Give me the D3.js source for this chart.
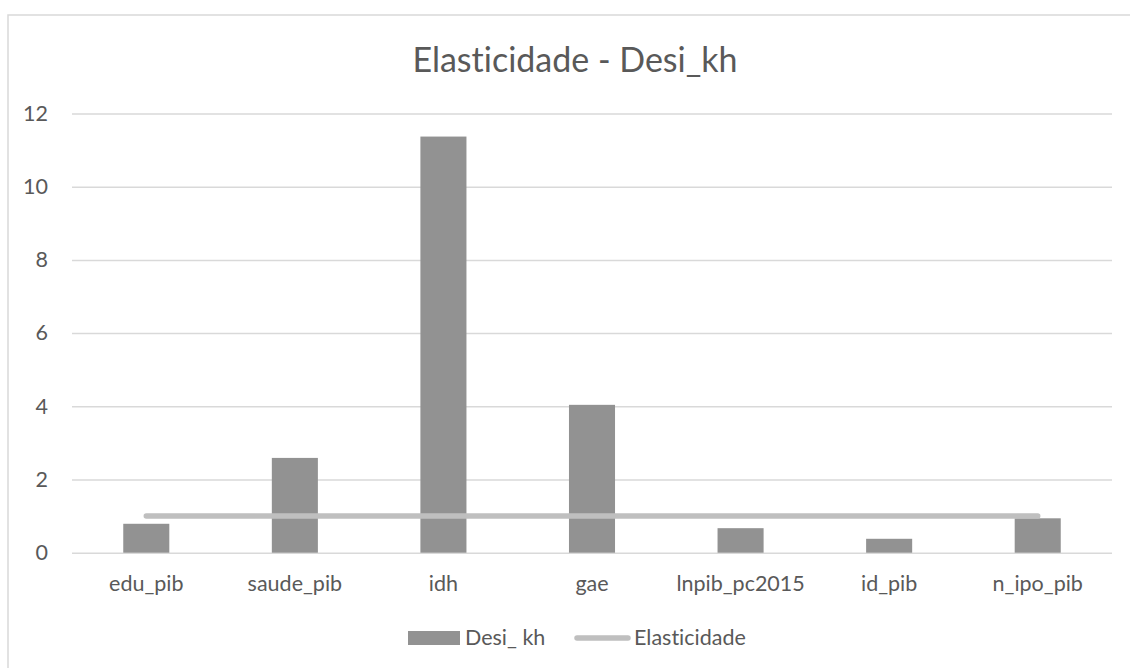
<!DOCTYPE html>
<html>
<head>
<meta charset="utf-8">
<script src="https://cdn.jsdelivr.net/npm/d3@7"></script>
<style>
  html, body { margin: 0; padding: 0; background: #fff; }
  svg { display: block; font-family: Lato, "Open Sans", sans-serif; font-variant-ligatures: none; }
</style>
</head>
<body>
<svg id="chart" width="1130" height="668"></svg>
<script>
// Categories and series
const categories = ["edu_pib", "saude_pib", "idh", "gae", "lnpib_pc2015", "id_pib", "n_ipo_pib"];
const desiKh = [0.79, 2.59, 11.37, 4.04, 0.67, 0.38, 0.94];
const elasticidade = [1, 1, 1, 1, 1, 1, 1];
const yTicks = [0, 2, 4, 6, 8, 10, 12];
const seriesNames = ["Desi_ kh", "Elasticidade"];
const titleText = "Elasticidade - Desi_kh";

const W = 1130, H = 668;
const plot = { left: 72, right: 1112, top: 113.5, bottom: 552.7 };
const barColor = "#929292", lineColor = "#bfbfbf", gridColor = "#d9d9d9", textColor = "#595959";
const labelSize = "21.5px";

const svg = d3.select("#chart");

// Chart area border
svg.append("rect")
  .attr("x", 8).attr("y", 15)
  .attr("width", W).attr("height", H)
  .attr("fill", "#fff")
  .attr("stroke", gridColor).attr("stroke-width", 1.5);

const x = d3.scaleBand()
  .domain(categories)
  .range([plot.left, plot.right])
  .paddingInner(0.69)
  .paddingOuter(0.345);

const y = d3.scaleLinear()
  .domain([0, 12])
  .range([plot.bottom, plot.top]);

// Gridlines + y labels
const yAxis = d3.axisLeft(y).tickValues(yTicks).tickSize(-(plot.right - plot.left)).tickFormat(d3.format("d")).tickPadding(24);
const gy = svg.append("g").attr("transform", `translate(${plot.left},0)`).call(yAxis);
gy.select(".domain").remove();
gy.selectAll(".tick line").attr("stroke", gridColor).attr("stroke-width", 1.5);
gy.selectAll(".tick text")
  .attr("fill", textColor)
  .style("font-size", labelSize)
  .style("font-family", "Lato, sans-serif");

// Bars
svg.append("g").selectAll("rect")
  .data(categories)
  .join("rect")
  .attr("x", d => x(d))
  .attr("width", x.bandwidth())
  .attr("y", (d, i) => y(desiKh[i]))
  .attr("height", (d, i) => y(0) - y(desiKh[i]))
  .attr("fill", barColor);

// Elasticidade line
const line = d3.line()
  .x((d, i) => x(categories[i]) + x.bandwidth() / 2)
  .y(d => y(d));
svg.append("path")
  .datum(elasticidade)
  .attr("d", line)
  .attr("fill", "none")
  .attr("stroke", lineColor)
  .attr("stroke-width", 5.5)
  .attr("stroke-linecap", "round");

// Category axis labels
const xAxis = d3.axisBottom(x).tickSize(0).tickPadding(23);
const gx = svg.append("g").attr("transform", `translate(0,${plot.bottom})`).call(xAxis);
gx.select(".domain").remove();
gx.selectAll(".tick text")
  .attr("fill", textColor)
  .style("font-size", labelSize)
  .style("font-family", "Lato, sans-serif");

// Title
svg.append("text")
  .attr("x", 575)
  .attr("y", 72)
  .attr("text-anchor", "middle")
  .attr("fill", textColor)
  .style("font-size", "34px")
  .style("font-family", "Lato, sans-serif")
  .text(titleText);

// Legend
const lg = svg.append("g");
lg.append("rect")
  .attr("x", 408).attr("y", 631)
  .attr("width", 52).attr("height", 14)
  .attr("fill", barColor);
lg.append("text")
  .attr("x", 465).attr("y", 645)
  .attr("fill", textColor)
  .style("font-size", labelSize)
  .text(seriesNames[0]);
lg.append("line")
  .attr("x1", 577).attr("x2", 628)
  .attr("y1", 638).attr("y2", 638)
  .attr("stroke", lineColor).attr("stroke-width", 5.5)
  .attr("stroke-linecap", "round");
lg.append("text")
  .attr("x", 634).attr("y", 645)
  .attr("fill", textColor)
  .style("font-size", labelSize)
  .text(seriesNames[1]);
</script>
</body>
</html>
